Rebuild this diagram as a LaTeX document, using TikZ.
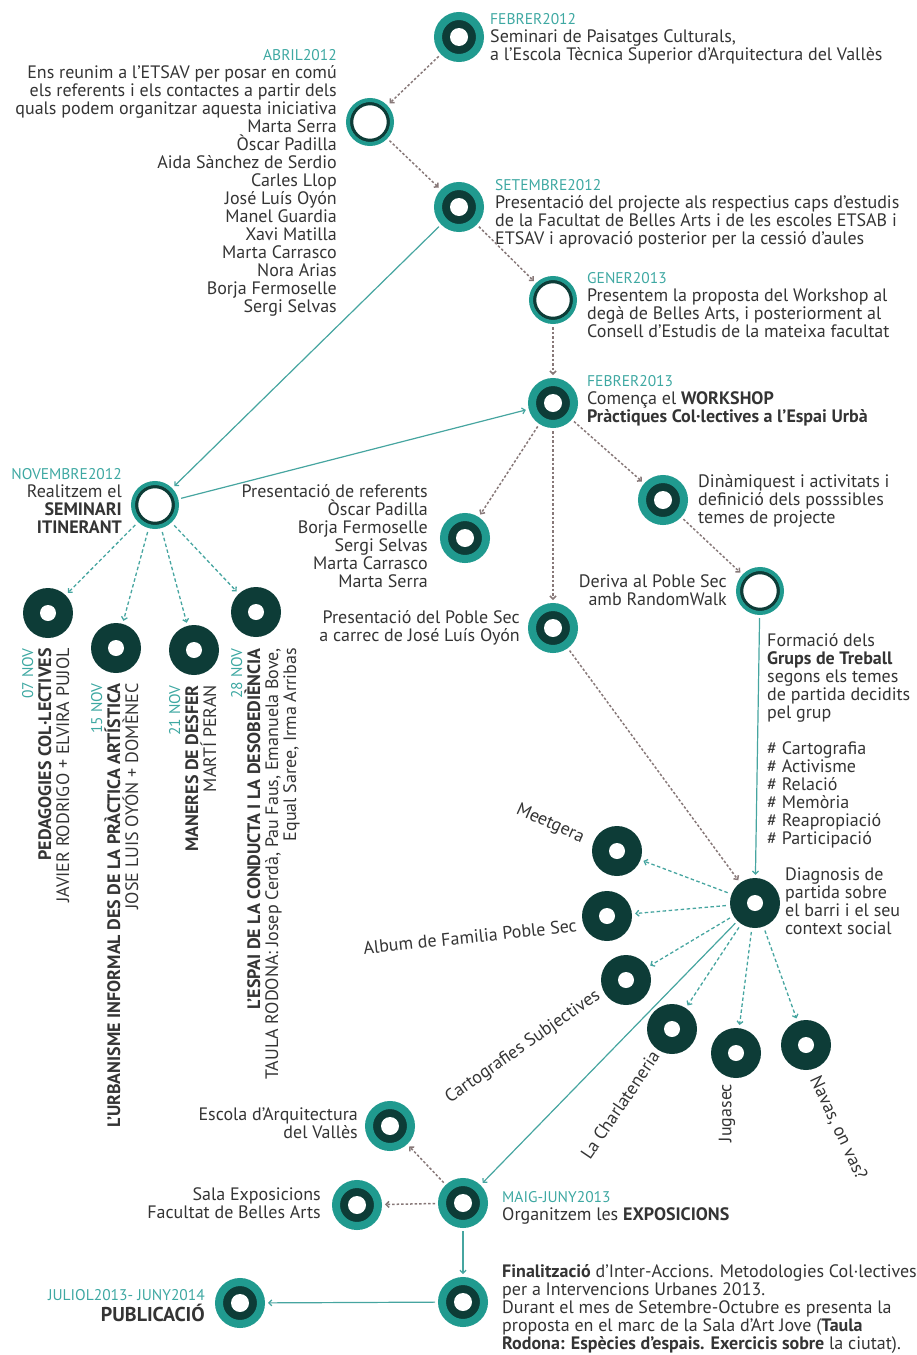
\documentclass[tikz,border=0pt]{standalone}
\usepackage{fontspec}
\setmainfont{PT Sans}
\usetikzlibrary{arrows.meta}
\definecolor{tealmid}{RGB}{32,154,143}
\definecolor{deep}{RGB}{13,60,55}
\definecolor{datecol}{RGB}{62,168,162}
\definecolor{txtgray}{RGB}{52,52,52}
\definecolor{greyline}{RGB}{135,120,120}
\definecolor{tealline}{RGB}{70,165,160}
\newcommand{\dt}[1]{{\fontsize{15.5}{18}\selectfont\color{datecol}#1}}
\lineskiplimit=-100pt
\begin{document}
\begin{tikzpicture}[x=1pt, y=-1pt,
    >={Straight Barb[length=3pt,width=6pt]},
    ringdot/.style={circle, inner sep=0pt, minimum size=42pt, draw=tealmid, line width=8pt, fill=deep,
        path picture={\fill[white] (path picture bounding box.center) circle (9pt);}},
    ringopen/.style={circle, inner sep=0pt, minimum size=44pt, draw=tealmid, line width=4pt, fill=white,
        path picture={\draw[deep, line width=3.5pt] (path picture bounding box.center) circle (18.5pt);}},
    dotdark/.style={circle, inner sep=0pt, minimum size=50pt, fill=deep,
        path picture={\fill[white] (path picture bounding box.center) circle (8pt);}},
    lbl/.style={font=\fontsize{18}{18}\selectfont, text=txtgray, inner sep=0pt},
    greyarrow/.style={->, draw=greyline, line width=1.5pt, dash pattern=on 2.5pt off 2pt, shorten <=3pt, shorten >=3pt},
    tealdashed/.style={->, draw=tealline, line width=1.3pt, dash pattern=on 3.5pt off 2.5pt, shorten <=4pt, shorten >=3pt},
    tealarrow/.style={->, draw=tealline, line width=1.2pt, shorten <=3pt, shorten >=3pt}]
\useasboundingbox (0,0) rectangle (917,1355);

% circles
\node[ringdot] (feb12) at (459,37) {};
\node[ringopen] (abr12) at (370,122) {};
\node[ringdot] (set12) at (459,207) {};
\node[ringopen] (gen13) at (553,300) {};
\node[ringdot] (feb13) at (553,403) {};
\node[ringopen] (nov12) at (155,505) {};
\node[ringdot] (pres) at (465,538) {};
\node[ringdot] (dinam) at (663,500) {};
\node[ringopen] (deriva) at (760,591) {};
\node[ringdot] (psec) at (553,628) {};
\node[dotdark] (n07) at (48,613) {};
\node[dotdark] (n15) at (116,648) {};
\node[dotdark] (n21) at (194,650) {};
\node[dotdark] (n28) at (256,612) {};
\node[dotdark] (diag) at (755,903) {};
\node[dotdark] (meet) at (617,851) {};
\node[dotdark] (album) at (607,916) {};
\node[dotdark] (carto) at (626,980) {};
\node[dotdark] (chart) at (672,1029) {};
\node[dotdark] (juga) at (736,1053) {};
\node[dotdark] (nava) at (806,1045) {};
\node[ringdot] (escola) at (390,1126) {};
\node[ringdot] (sala) at (357,1205) {};
\node[ringdot] (maig) at (463,1203) {};
\node[ringdot] (final) at (463,1302) {};
\node[ringdot] (publi) at (240,1303) {};

% texts
\node[lbl, anchor=north west, align=left] (tfeb12) at (490,13)
    {\dt{FEBRER2012}\\Seminari de Paisatges Culturals,\\a l’Escola Tècnica Superior d’Arquitectura del Vallès};
\node[lbl, anchor=north east, align=right] (tabr12) at (337,49)
    {\dt{ABRIL2012}\\Ens reunim a l’ETSAV per posar en comú\\els referents i els contactes a partir dels\\quals podem organitzar aquesta iniciativa\\
     Marta Serra\\Òscar Padilla\\Aida Sànchez de Serdio\\Carles Llop\\José Luís Oyón\\Manel Guardia\\Xavi Matilla\\Marta Carrasco\\Nora Arias\\Borja Fermoselle\\Sergi Selvas};
\node[lbl, anchor=north west, align=left] (tset12) at (495,179)
    {\dt{SETEMBRE2012}\\Presentació del projecte als respectius caps d’estudis\\de la Facultat de Belles Arts i de les escoles ETSAB i\\ETSAV i aprovació posterior per la cessió d’aules};
\node[lbl, anchor=north west, align=left] (tgen13) at (587,272)
    {\dt{GENER2013}\\Presentem la proposta del Workshop al\\degà de Belles Arts, i posteriorment al\\Consell d’Estudis de la mateixa facultat};
\node[lbl, anchor=north west, align=left] (tfeb13) at (587,375)
    {\dt{FEBRER2013}\\Comença el \textbf{WORKSHOP}\\\textbf{Pràctiques Col·lectives a l’Espai Urbà}};
\node[lbl, anchor=north east, align=right] (tnov12) at (122,468)
    {\dt{NOVEMBRE2012}\\Realitzem el\\\textbf{SEMINARI}\\\textbf{ITINERANT}};
\node[lbl, anchor=north east, align=right] (tpres) at (428,484)
    {Presentació de referents\\Òscar Padilla\\Borja Fermoselle\\Sergi Selvas\\Marta Carrasco\\Marta Serra};
\node[lbl, anchor=north west, align=left] (tdinam) at (698,474)
    {Dinàmiquest i activitats i\\definició dels posssibles\\temes de projecte};
\node[lbl, anchor=north east, align=right] (tderiva) at (727,574)
    {Deriva al Poble Sec\\amb RandomWalk};
\node[lbl, anchor=north east, align=right] (tpsec) at (520,610)
    {Presentació del Poble Sec\\a carrec de José Luís Oyón};
\node[lbl, anchor=north west, align=left] (tgrups) at (767,633)
    {Formació dels\\\textbf{Grups de Treball}\\segons els temes\\de partida decidits\\pel grup\\[18pt]
     \# Cartografia\\\# Activisme\\\# Relació\\\# Memòria\\\# Reapropiació\\\# Participació};
\node[lbl, anchor=north west, align=left] (tdiag) at (785,868)
    {Diagnosis de\\partida sobre\\el barri i el seu\\context social};
\node[lbl, anchor=north west, align=left] (tmaig) at (502,1191)
    {\dt{MAIG-JUNY2013}\\Organitzem les \textbf{EXPOSICIONS}};
\node[lbl, anchor=north east, align=right] (tescola) at (358,1107)
    {Escola d’Arquitectura\\del Vallès};
\node[lbl, anchor=north east, align=right] (tsala) at (321,1187)
    {Sala Exposicions\\Facultat de Belles Arts};
\node[lbl, anchor=north west, align=left] (tfinal) at (502,1264)
    {\textbf{Finalització} d’Inter-Accions. Metodologies Col·lectives\\per a Intervencions Urbanes 2013.\\
     Durant el mes de Setembre-Octubre es presenta la\\proposta en el marc de la Sala d’Art Jove (\textbf{Taula}\\\textbf{Rodona: Espècies d’espais. Exercicis sobre} la ciutat).};
\node[lbl, anchor=north east, align=right] (tpubli) at (205,1289)
    {\dt{JULIOL2013- JUNY2014}\\[3pt]{\fontsize{20}{20}\selectfont\bfseries PUBLICACIÓ}};

% seminari itinerant
\node[lbl, anchor=north east, align=right, rotate=90] (t07) at (22,648)
    {\dt{07 NOV}\\\textbf{PEDAGOGIES COL·LECTIVES}\\JAVIER RODRIGO + ELVIRA PUJOL};
\node[lbl, anchor=north east, align=right, rotate=90] (t15) at (91,683)
    {\dt{15 NOV}\\\textbf{L’URBANISME INFORMAL DES DE LA PRÀCTICA ARTÍSTICA}\\JOSE LUIS OYÓN + DOMÈNEC};
\node[lbl, anchor=north east, align=right, rotate=90] (t21) at (169,685)
    {\dt{21 NOV}\\\textbf{MANERES DE DESFER}\\MARTÍ PERAN};
\node[lbl, anchor=north east, align=right, rotate=90] (t28) at (231,648)
    {\dt{28 NOV}\\\textbf{L’ESPAI DE LA CONDUCTA I LA DESOBEDIÈNCIA}\\TAULA RODONA: Josep Cerdà, Pau Faus, Emanuela Bove,\\Equal Saree, Irma Arribas};

% grups de treball
\node[lbl, rotate=-24] (tmeet) at (550,824) {Meetgera};
\node[lbl, rotate=6] (talbum) at (470,937) {Album de Familia Poble Sec};
\node[lbl, rotate=35] (tcarto) at (523,1047) {Cartografies Subjectives};
\node[lbl, rotate=56] (tchart) at (620,1105) {La Charlateneria};
\node[lbl, rotate=90] (tjuga) at (727,1113) {Jugasec};
\node[lbl, rotate=-65] (tnava) at (838,1128) {Navas, on vas?};

% connectors
\draw[greyarrow] (feb12) -- (abr12);
\draw[greyarrow] (abr12) -- (set12);
\draw[greyarrow] (set12) -- (gen13);
\draw[greyarrow] (gen13) -- (feb13);
\draw[greyarrow] (feb13) -- (pres);
\draw[greyarrow] (feb13) -- (psec);
\draw[greyarrow] (feb13) -- (dinam);
\draw[greyarrow] (dinam) -- (deriva);
\draw[greyarrow] (psec) -- (diag);
\draw[greyarrow] (maig) -- (escola);
\draw[greyarrow] (maig) -- (sala);
\draw[tealarrow] (set12) -- (nov12);
\draw[tealarrow] (nov12) -- (feb13);
\draw[tealarrow] (deriva) -- (diag);
\draw[tealarrow] (diag) -- (maig);
\draw[tealarrow] (maig) -- (final);
\draw[tealarrow] (final) -- (publi);
\foreach \t in {n07,n15,n21,n28} \draw[tealdashed] (nov12) -- (\t);
\foreach \t in {meet,album,carto,chart,juga,nava} \draw[tealdashed] (diag) -- (\t);
\end{tikzpicture}
\end{document}
